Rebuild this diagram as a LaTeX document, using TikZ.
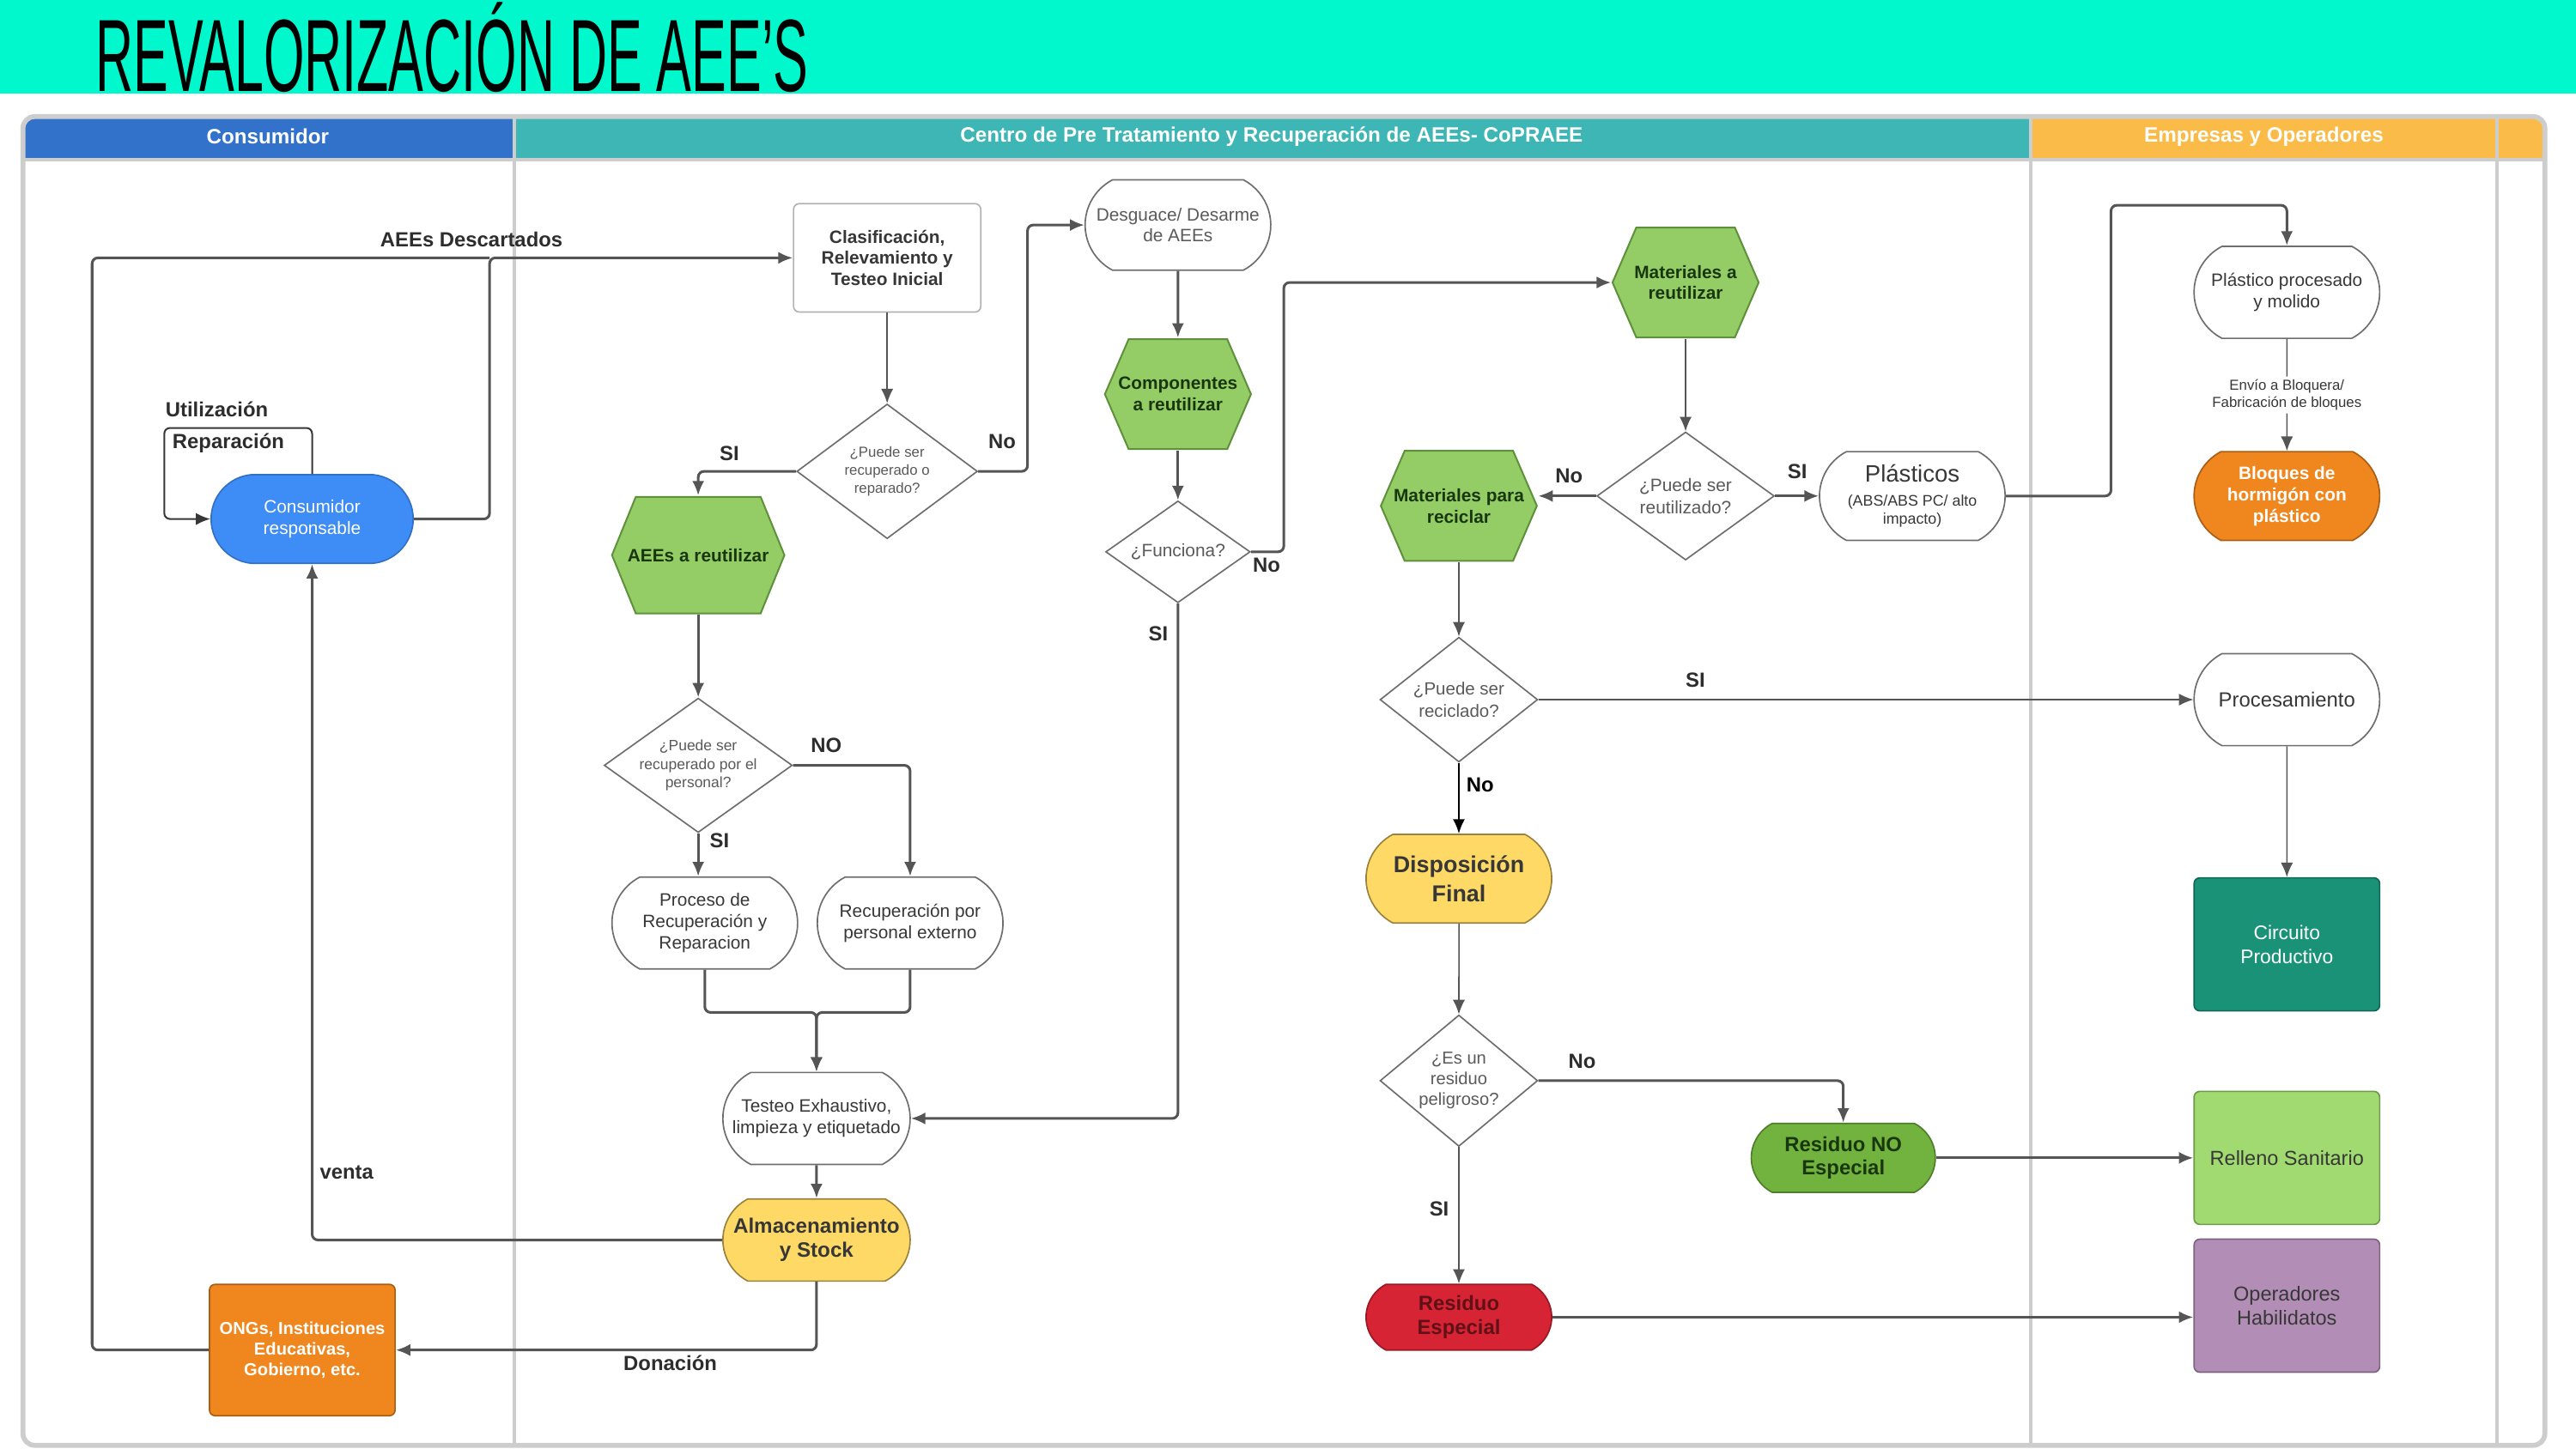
\documentclass[tikz,border=0pt]{standalone}
\usepackage{fontspec}
\setmainfont{Liberation Sans}
\usetikzlibrary{arrows.meta,positioning,shapes.geometric,shapes.misc}
\definecolor{band}{RGB}{0,248,204}
\definecolor{framec}{RGB}{205,205,205}
\definecolor{hdblue}{RGB}{50,114,202}
\definecolor{hdteal}{RGB}{62,182,182}
\definecolor{hdorng}{RGB}{251,187,73}
\definecolor{linec}{RGB}{85,85,85}
\definecolor{edge}{RGB}{110,110,110}
\definecolor{ink}{RGB}{55,55,55}
\definecolor{qtext}{RGB}{90,90,90}
\definecolor{labelc}{RGB}{45,45,45}
\definecolor{hexfill}{RGB}{148,204,102}
\definecolor{hexedge}{RGB}{95,145,60}
\definecolor{hextext}{RGB}{25,55,15}
\definecolor{consblue}{RGB}{62,140,245}
\definecolor{yel}{RGB}{255,217,102}
\definecolor{orng}{RGB}{240,134,30}
\definecolor{nogreen}{RGB}{114,178,62}
\definecolor{resred}{RGB}{214,36,52}
\definecolor{prodteal}{RGB}{26,146,120}
\definecolor{lgreen}{RGB}{160,218,112}
\definecolor{opurp}{RGB}{178,142,182}

\begin{document}
\begin{tikzpicture}[x=0.2mm,y=-0.2mm,>={Latex[length=5pt,width=4.2pt]},
  every node/.style={font=\fontsize{6.2}{7.4}\selectfont,align=center,text=ink},
  sz/.style 2 args={minimum width=#1*0.2mm,minimum height=#2*0.2mm,inner sep=0pt},
  term/.style={rounded rectangle,rounded rectangle arc length=125,draw=edge,fill=white,line width=0.5pt},
  dec/.style={diamond,aspect=1.3,draw=edge,fill=white,line width=0.5pt,text=qtext,font=\fontsize{5}{6.2}\selectfont},
  hexa/.style={rectangle,fill=white,text=hextext,font=\bfseries\fontsize{6.2}{7.4}\selectfont,
    path picture={\draw[hexedge,fill=hexfill,line width=0.6pt]
      ([xshift=0.3pt]path picture bounding box.west)
      -- ([xshift=3mm,yshift=-0.3pt]path picture bounding box.north west)
      -- ([xshift=-3mm,yshift=-0.3pt]path picture bounding box.north east)
      -- ([xshift=-0.3pt]path picture bounding box.east)
      -- ([xshift=-3mm,yshift=0.3pt]path picture bounding box.south east)
      -- ([xshift=3mm,yshift=0.3pt]path picture bounding box.south west) -- cycle;}},
  card/.style={rectangle,rounded corners=2pt,draw=#1!70!black,fill=#1,line width=0.5pt},
  hdr/.style={text=white,font=\bfseries\fontsize{7.2}{8}\selectfont},
  lbl/.style={font=\bfseries\fontsize{7.1}{8}\selectfont,text=labelc},
  flow/.style={->,draw=linec,line width=0.9pt,rounded corners=2pt},
  fine/.style={->,draw=linec,line width=0.45pt,rounded corners=2pt}]
\useasboundingbox (0,0) rectangle (1568,882);
\fill[band] (0,0) rectangle (1568,57);
\node[anchor=west,text=black] (title) at (52,29) {\scalebox{0.51}[1]{\fontsize{35.6}{36}\selectfont REVALORIZACIÓN DE AEE’S}};

\fill[hdblue] (15,72) rectangle (313,97);
\fill[hdteal] (313,72) rectangle (1236,97);
\fill[hdorng] (1236,72) rectangle (1548,97);
\draw[framec,line width=1.2pt] (14,97) -- (1549,97);
\draw[framec,line width=1.7pt,rounded corners=4pt] (14,71) rectangle (1549,880);
\foreach \x in {313,1236,1520} \draw[framec,line width=1.3pt] (\x,72) -- (\x,880);
\node[hdr] (hCons) at (163,83) {Consumidor};
\node[hdr] (hCentro) at (774,83) {Centro de Pre Tratamiento y Recuperación de AEEs- CoPRAEE};
\node[hdr] (hEmp) at (1378,83) {Empresas y Operadores};

\node[term,sz={123}{54},rounded rectangle arc length=170,fill=consblue,draw=consblue!80!black,text=white] (cons) at (190,316) {Consumidor\\responsable};
\node[card=white,sz={114}{66},font=\bfseries\fontsize{6.2}{7.4}\selectfont] (clas) at (540,157) {Clasificación,\\Relevamiento y\\Testeo Inicial};
\node[dec,sz={110}{82}] (d1) at (540,287) {¿Puede ser\\recuperado o\\reparado?};
\node[hexa,sz={106}{72}] (aee) at (425,338) {AEEs a reutilizar};
\node[dec,sz={110}{80},aspect=1.4,font=\fontsize{5.2}{6.3}\selectfont] (d2) at (425,466) {¿Puede ser\\recuperado por el\\personal?};
\node[term,sz={113}{56}] (proc) at (429,562) {Proceso de\\Recuperación y\\Reparacion};
\node[term,sz={113}{56}] (rext) at (554,562) {Recuperación por\\personal externo};
\node[term,sz={114}{56}] (test) at (497,681) {Testeo Exhaustivo,\\limpieza y etiquetado};
\node[term,sz={114}{50},fill=yel,draw=yel!60!black,font=\bfseries\fontsize{7.2}{8.4}\selectfont] (alm) at (497,755) {Almacenamiento\\y Stock};
\node[card=orng,sz={113}{80},text=white,font=\bfseries\fontsize{6}{7.2}\selectfont] (ong) at (184,822) {ONGs, Instituciones\\Educativas,\\Gobierno, etc.};

\node[term,sz={113}{55},text=qtext] (desg) at (717,137) {Desguace/ Desarme\\de AEEs};
\node[hexa,sz={90}{68}] (comp) at (717,240) {Componentes\\a reutilizar};
\node[dec,sz={88}{62},aspect=1.4,font=\fontsize{6.2}{7.4}\selectfont] (func) at (717,336) {¿Funciona?};
\node[hexa,sz={90}{68}] (mreu) at (1026,172) {Materiales a\\reutilizar};
\node[dec,sz={108}{78},aspect=1.4,font=\fontsize{6.2}{7.6}\selectfont] (d3) at (1026,302) {¿Puede ser\\reutilizado?};
\node[hexa,sz={96}{68}] (mrec) at (888,308) {Materiales para\\reciclar};
\node[term,sz={113}{54},font=\fontsize{5.3}{6.4}\selectfont] (plas) at (1164,302) {{\fontsize{8.2}{9}\selectfont Plásticos}\\[2pt](ABS/ABS PC/ alto\\impacto)};
\node[dec,sz={96}{76},aspect=1.25,font=\fontsize{6.1}{7.6}\selectfont] (d4) at (888,426) {¿Puede ser\\reciclado?};
\node[term,sz={113}{54},fill=yel,draw=yel!60!black,font=\bfseries\fontsize{8}{10}\selectfont] (disp) at (888,535) {Disposición\\Final};
\node[dec,sz={96}{80},aspect=1.2,font=\fontsize{6}{7.2}\selectfont] (d5) at (888,658) {¿Es un\\residuo\\peligroso?};
\node[term,sz={112}{42},fill=nogreen,draw=nogreen!70!black,text=hextext,font=\bfseries\fontsize{7.1}{8.2}\selectfont] (rnoe) at (1122,705) {Residuo NO\\Especial};
\node[term,sz={113}{40},fill=resred,draw=resred!70!black,text=resred!45!black,font=\bfseries\fontsize{7.1}{8.2}\selectfont] (resp) at (888,802) {Residuo\\Especial};

\node[term,sz={113}{56}] (ppm) at (1392,178) {Plástico procesado\\y molido};
\node[term,sz={113}{54},fill=orng,draw=orng!70!black,text=white,font=\bfseries\fontsize{6.2}{7.4}\selectfont] (bloq) at (1392,302) {Bloques de\\hormigón con\\plástico};
\node[term,sz={113}{56},font=\fontsize{7.1}{8}\selectfont] (procm) at (1392,426) {Procesamiento};
\node[card=prodteal,sz={113}{81},text=white,font=\fontsize{6.8}{8.2}\selectfont] (circ) at (1392,575) {Circuito\\Productivo};
\node[card=lgreen,sz={113}{81},font=\fontsize{7}{8}\selectfont] (rell) at (1392,705) {Relleno Sanitario};
\node[card=opurp,sz={113}{81},font=\fontsize{7}{8.4}\selectfont] (oper) at (1392,795) {Operadores\\Habilidatos};

\coordinate (join) at (298,157);
\draw[flow,-] (ong.west) -- ++(-71,0) |- (join);
\draw[flow] (cons.east) -| (join) -- (clas.west);
\draw[fine,draw=ink,line width=0.6pt] (cons.north) -- ++(0,-28) -- ++(-90,0) |- (cons.west);
\draw[fine] (clas) -- (d1);
\draw[flow] (d1.west) -| (aee.north);
\draw[flow] (d1.east) -- ++(30,0) |- (desg.west);
\draw[flow] (aee) -- (d2);
\draw[flow] (d2.south) -- (d2.south |- proc.north);
\draw[flow] (d2.east) -| (rext.north);
\draw[flow] (proc.south) -- ++(0,26) -| (test.north);
\draw[flow] (rext.south) -- ++(0,26) -| (test.north);
\draw[flow] (test) -- (alm);
\draw[flow] (alm.west) -| (cons.south);
\draw[flow] (alm.south) |- (ong.east);
\draw[flow] (desg) -- (comp);
\draw[flow] (comp) -- (func);
\draw[flow] (func.south) |- (test.east);
\draw[flow] (func.east) -- ++(20,0) |- (mreu.west);
\draw[fine] (mreu) -- (d3);
\draw[flow] (d3.west) -- (d3.west -| mrec.east);
\draw[flow] (d3.east) -- (plas.west);
\draw[flow] (plas.east) -- ++(64,0) -- ++(0,-177) -| (ppm.north);
\draw[fine] (ppm) -- node[fill=white,inner sep=1pt,font=\fontsize{5}{6}\selectfont] {Envío a Bloquera/\\Fabricación de bloques} (bloq);
\draw[fine] (mrec) -- (d4);
\draw[fine] (d4.east) -- (procm.west);
\draw[fine,draw=black,line width=0.6pt] (d4.south) -- (disp.north);
\draw[fine] (procm) -- (circ);
\draw[fine] (disp) -- (d5);
\draw[flow] (d5.east) -| (rnoe.north);
\draw[fine] (d5.south) -- (resp.north);
\draw[flow] (rnoe.east) -- (rell.west);
\draw[flow] (resp.east) -- (resp.east -| oper.west);

\node[lbl] (tDesc) at (287,146) {AEEs Descartados};
\node[lbl] (tUso) at (132,249) {Utilización};
\node[lbl] (tRep) at (139,270) {Reparación};
\node[lbl] (tVenta) at (211,714) {venta};
\node[lbl] (tDon) at (408,830) {Donación};
\node[lbl] (tSi1) at (444,276) {SI};
\node[lbl] (tNo1) at (610,269) {No};
\node[lbl] (tNo2) at (503,454) {NO};
\node[lbl] (tSi2) at (438,512) {SI};
\node[lbl] (tSi3) at (705,386) {SI};
\node[lbl] (tNo3) at (771,344) {No};
\node[lbl] (tNo4) at (955,290) {No};
\node[lbl] (tSi4) at (1094,287) {SI};
\node[lbl] (tSi5) at (1032,414) {SI};
\node[lbl,text=black] (tNo5) at (901,478) {No};
\node[lbl] (tNo6) at (963,646) {No};
\node[lbl] (tSi6) at (876,736) {SI};
\end{tikzpicture}
\end{document}
